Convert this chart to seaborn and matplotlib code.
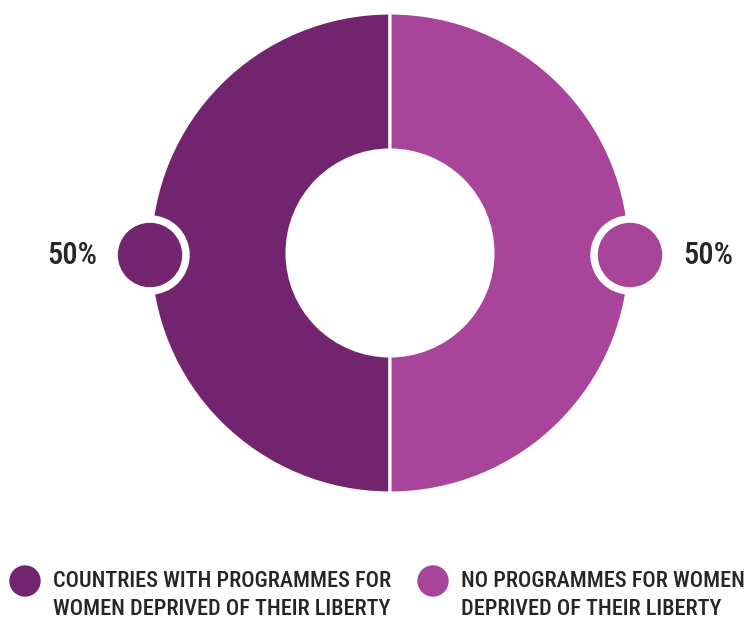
import matplotlib
matplotlib.use("Agg")
import matplotlib.pyplot as plt
import seaborn as sns

# Share of countries with / without programmes
categories = ["COUNTRIES WITH PROGRAMMES FOR\nWOMEN DEPRIVED OF THEIR LIBERTY",
              "NO PROGRAMMES FOR WOMEN\nDEPRIVED OF THEIR LIBERTY"]
values = [50, 50]
value_labels = ["50%", "50%"]
colors = sns.color_palette(["#73246F", "#A84499"])

sns.set_theme(style="white")
plt.rcParams["font.family"] = ["Roboto Condensed", "Archivo Narrow",
                               "Barlow Semi Condensed", "DejaVu Sans"]

W, H = 756, 620
fig = plt.figure(figsize=(W / 100, H / 100), dpi=100)
ax = fig.add_axes([0, 0, 1, 1])

cx, cy = 390, H - 253
r_out, r_in = 240, 103

ax.pie(values, colors=colors, startangle=90, counterclock=True,
       center=(cx, cy), radius=r_out, frame=True,
       wedgeprops=dict(width=r_out - r_in, edgecolor="white", linewidth=2.2))
ax.set_xlim(0, W)
ax.set_ylim(0, H)
ax.set_aspect("equal")
ax.axis("off")

text_col = "#262626"
marker_y = H - 255
for side, col, lab in [(-1, colors[0], value_labels[0]), (1, colors[1], value_labels[1])]:
    mx = cx + side * r_out
    ax.add_patch(plt.Circle((mx, marker_y), 39, color="white", zorder=5))
    ax.add_patch(plt.Circle((mx, marker_y), 31.5, color=col, zorder=6))
    ax.text(mx + side * 78, marker_y, lab, ha="center", va="center",
            fontsize=22, fontweight="medium", color=text_col, zorder=7)

# Legend
legend_x = [25, 433]
for x, col, lab in zip(legend_x, colors, categories):
    ax.add_patch(plt.Circle((x, H - 581), 15, color=col, zorder=5))
    ax.text(x + 28, H - 595, lab, ha="left", va="center", fontsize=16,
            fontweight="medium", color=text_col, linespacing=1.36)

fig.savefig("out.png", dpi=100, facecolor="white")
